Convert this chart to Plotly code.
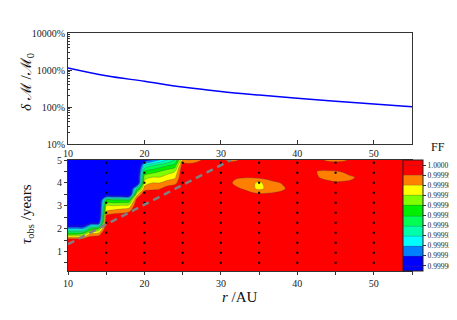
import plotly.graph_objects as go

SERIF = "Liberation Serif, Times New Roman, serif"

# ---------------- top panel: mass uncertainty vs r ----------------
R_TOP = [10, 15, 20, 25, 30, 35, 40, 45, 50, 55]
DM_PCT = [1140, 700, 495, 345, 262, 210, 172, 143, 121, 102]
Y_TOP_TICKS = [10, 100, 1000, 10000]
Y_TOP_LABELS = ["10%", "100%", "1000%", "10000%"]
Y_TOP_MINOR = [20, 30, 40, 50, 60, 70, 80, 90,
               200, 300, 400, 500, 600, 700, 800, 900,
               2000, 3000, 4000, 5000, 6000, 7000, 8000, 9000]

# ---------------- bottom panel: fitting factor map ----------------
# FF deficit (1 - FF) in units of 1e-5 ; B = below 0.99990 (clipped)
B = 12
R_GRID = [10, 11, 12, 13, 14, 15, 16, 17, 18, 19, 20, 21, 22, 23, 24, 25, 26, 27,
          28, 29, 30, 31, 32, 33, 34, 35, 36, 37, 38, 39, 40, 41, 42, 43, 44, 45,
          46, 47, 48, 49, 50, 51, 52, 53, 54, 55]
TAU_GRID = [0.0, 0.25, 0.5, 0.75, 1.0, 1.25, 1.5, 1.75, 2.0, 2.25, 2.5, 2.75,
            3.0, 3.25, 3.5, 3.75, 4.0, 4.25, 4.5, 4.75, 5.0]

# dense block, one list per r column (r = 10 .. 28); values at tau = 5.0 down to 1.25
BLOCK_TAU = [5.0, 4.75, 4.5, 4.25, 4.0, 3.75, 3.5, 3.25, 3.0, 2.75, 2.5, 2.25,
             2.0, 1.75, 1.5, 1.25]
BLOCK_COLS = {
    10: [B, B, B, B, B, B, B, B, B, B, B, B, 8, 4, 0, 0],
    11: [B, B, B, B, B, B, B, B, B, B, B, B, 8, 4, 0, 0],
    12: [B, B, B, B, B, B, B, B, B, B, B, B, 8, 3.5, 0, 0],
    13: [B, B, B, B, B, B, B, B, B, B, B, 10, 5, 1.5, 0, 0],
    14: [B, B, B, B, B, B, B, B, B, B, B, 10, 4, 1.3, 0, 0],
    15: [B, B, B, B, B, B, B, 5, 3, 2, 0.5, 0, 0, 0, 0, 0],
    16: [B, B, B, B, B, B, B, 5, 3, 1.6, 0, 0, 0, 0, 0, 0],
    17: [B, B, B, B, B, B, B, 5, 2.8, 1.4, 0, 0, 0, 0, 0, 0],
    18: [B, B, B, B, B, B, B, 5, 2.6, 1.1, 0, 0, 0, 0, 0, 0],
    19: [B, B, B, B, B, 6, 2.5, 0.5, 0, 0, 0, 0, 0, 0, 0, 0],
    20: [10, 7, 5, 3.5, 2.5, 1.6, 0, 0, 0, 0, 0, 0, 0, 0, 0, 0],
    21: [9, 6, 4.5, 3, 2, 1.3, 0, 0, 0, 0, 0, 0, 0, 0, 0, 0],
    22: [8, 5.5, 4, 3, 2, 1.1, 0, 0, 0, 0, 0, 0, 0, 0, 0, 0],
    23: [7, 5, 3.5, 2.5, 1.6, 0.5, 0, 0, 0, 0, 0, 0, 0, 0, 0, 0],
    24: [6, 4.5, 3, 2.2, 1.3, 0.3, 0, 0, 0, 0, 0, 0, 0, 0, 0, 0],
    25: [2, 0.3, 0, 0, 0, 0, 0, 0, 0, 0, 0, 0, 0, 0, 0, 0],
    26: [2, 0.3, 0, 0, 0, 0, 0, 0, 0, 0, 0, 0, 0, 0, 0, 0],
    27: [1.4, 0, 0, 0, 0, 0, 0, 0, 0, 0, 0, 0, 0, 0, 0, 0],
    28: [0.5, 0, 0, 0, 0, 0, 0, 0, 0, 0, 0, 0, 0, 0, 0, 0],
}
# isolated small dips elsewhere: (r, tau, deficit)
ISLANDS = [
    (30, 5.0, 0.6), (31, 5.0, 1.3), (32, 5.0, 1.2), (33, 5.0, 0.5),
    (43, 5.0, 0.8), (44, 5.0, 1.3), (45, 5.0, 1.4), (46, 5.0, 1.3), (47, 5.0, 0.8),
    (32, 4.25, 0.8), (33, 4.25, 0.9), (34, 4.25, 0.9), (35, 4.25, 0.7), (36, 4.25, 0.5),
    (31, 4.0, 0.6), (32, 4.0, 1.4), (33, 4.0, 1.6), (34, 4.0, 1.8), (35, 4.0, 2.2),
    (36, 4.0, 1.7), (37, 4.0, 1.3), (38, 4.0, 0.9),
    (32, 3.75, 0.7), (33, 3.75, 1.2), (34, 3.75, 1.7), (35, 3.75, 2.3), (36, 3.75, 1.8),
    (37, 3.75, 1.6), (38, 3.75, 1.3), (39, 3.75, 0.6),
    (34, 3.5, 0.6), (35, 3.5, 0.8), (36, 3.5, 0.8), (37, 3.5, 0.7), (38, 3.5, 0.5),
    (42, 4.5, 0.8), (43, 4.5, 1.15), (44, 4.5, 1.15), (45, 4.5, 1.1), (46, 4.5, 0.9),
    (43, 4.25, 1.2), (44, 4.25, 1.5), (45, 4.25, 1.7), (46, 4.25, 1.5), (47, 4.25, 1.3),
    (48, 4.25, 0.7),
    (44, 4.0, 0.6), (45, 4.0, 0.8), (46, 4.0, 0.8), (47, 4.0, 0.7),
]

FF_TICKS = [-10, -9, -8, -7, -6, -5, -4, -3, -2, -1, 0]
FF_LABELS = ["0.99990", "0.99991", "0.99992", "0.99993", "0.99994", "0.99995",
             "0.99996", "0.99997", "0.99998", "0.99999", "1.0000"]
FF_COLORS = ["#0000ff", "#0000ff", "#0080ff", "#00ffff", "#00ffaa", "#00ff55",
             "#00ee00", "#80ff00", "#ffff00", "#ff8000", "#ff0000", "#ff0000"]

# boundary line and grid-sample lines
LINE_R = [10, 31.3]
LINE_TAU = [1.32, 5.0]
R_DOTTED = [15, 20, 25, 30, 35, 40, 45, 50]
DOT_TAU = [4.92, 0.15]

# ---------------- build matrix ----------------
z = [[0.0 for _ in R_GRID] for _ in TAU_GRID]
for r, col in BLOCK_COLS.items():
    j = R_GRID.index(r)
    for tau, d in zip(BLOCK_TAU, col):
        i = TAU_GRID.index(tau)
        z[i][j] = -d
for r, tau, d in ISLANDS:
    z[TAU_GRID.index(tau)][R_GRID.index(r)] = -d

n = len(FF_COLORS) - 1
colorscale = [[k / n, c] for k, c in enumerate(FF_COLORS)]

fig = go.Figure()

fig.add_trace(go.Scatter(
    x=R_TOP, y=DM_PCT, mode="lines", line=dict(color="#0000ff", width=1.5, shape="spline"),
    xaxis="x", yaxis="y", showlegend=False, hoverinfo="skip"))

fig.add_trace(go.Contour(
    x=R_GRID, y=TAU_GRID, z=z, xaxis="x2", yaxis="y2",
    contours=dict(start=-10, end=0, size=1, coloring="fill"),
    line=dict(width=0.5, color="rgba(70,70,70,0.6)"),
    colorscale=colorscale, showscale=True,
    colorbar=dict(
        x=(403 - 68) / 344, xanchor="left", xpad=0,
        y=0, yanchor="bottom", ypad=0,
        len=111, lenmode="pixels", thickness=20, thicknessmode="pixels",
        outlinecolor="#222", outlinewidth=1,
        tickvals=FF_TICKS, ticktext=FF_LABELS, ticks="outside", ticklen=3,
        tickcolor="#333", tickfont=dict(family=SERIF, size=7.5, color="#222")),
    hoverinfo="skip"))

dx, dy = [], []
for r in R_DOTTED:
    dx += [r, r, None]
    dy += [DOT_TAU[0], DOT_TAU[1], None]
fig.add_trace(go.Scatter(
    x=dx, y=dy, mode="lines", line=dict(color="black", width=2, dash="2px,8px"),
    xaxis="x2", yaxis="y2", showlegend=False, hoverinfo="skip"))

fig.add_trace(go.Scatter(
    x=LINE_R, y=LINE_TAU, mode="lines", line=dict(color="#808080", width=2.5, dash="7px,5px"),
    xaxis="x2", yaxis="y2", showlegend=False, hoverinfo="skip"))

axcol = "#333333"
tf = dict(family=SERIF, size=10, color="#222")
H = 238.0
# the page body adds an 8 px offset, so the figure is 8 px smaller and margins shifted
fig.update_layout(
    width=449, height=304,
    margin=dict(l=60, r=45, t=25, b=41, autoexpand=False),
    paper_bgcolor="white", plot_bgcolor="white",
    font=dict(family=SERIF, color="#222"),
    showlegend=False,
    xaxis=dict(domain=[0, 1], anchor="y", range=[10, 55], tickvals=[10, 20, 30, 40, 50],
               ticks="inside", ticklen=4, tickcolor=axcol, showline=True, linecolor=axcol,
               mirror=True, showgrid=False, zeroline=False, tickfont=tf),
    yaxis=dict(domain=[127 / H, 1], anchor="x", type="log", range=[1, 4],
               tickvals=Y_TOP_TICKS, ticktext=Y_TOP_LABELS, ticks="inside", ticklen=4,
               tickcolor=axcol, showline=True, linecolor=axcol, mirror=True,
               showgrid=False, zeroline=False, tickfont=tf,
               minor=dict(tickvals=Y_TOP_MINOR, ticks="inside", ticklen=2,
                          tickcolor=axcol, showgrid=False)),
    xaxis2=dict(domain=[0, 1], anchor="y2", range=[10, 55],
                tickvals=[10, 15, 20, 25, 30, 35, 40, 45, 50, 55],
                ticktext=["10", "", "20", "", "30", "", "40", "", "50", ""],
                ticks="outside", ticklen=3, tickcolor=axcol, showline=True, linecolor=axcol,
                mirror=True, showgrid=False, zeroline=False, tickfont=tf),
    yaxis2=dict(domain=[0, 111 / H], anchor="x2", range=[0.15, 5],
                tickvals=[0.5, 1, 1.5, 2, 2.5, 3, 3.5, 4, 4.5, 5],
                ticktext=["", "1", "", "2", "", "3", "", "4", "", "5"],
                ticks="outside", ticklen=3, tickcolor=axcol, showline=True, linecolor=axcol,
                mirror=True, showgrid=False, zeroline=False, tickfont=tf),
    annotations=[
        dict(text="<i>δ</i> ℳ /ℳ<sub>0</sub>", x=27, y=82, textangle=-90,
             font=dict(family=SERIF, size=15, color="#111")),
        dict(text="<i>τ</i><sub>obs</sub> /years", x=27, y=214, textangle=-90,
             font=dict(family=SERIF, size=15, color="#111")),
        dict(text="<i>r</i> /AU", x=240, y=297,
             font=dict(family=SERIF, size=15, color="#111")),
        dict(text="FF", x=438, y=147,
             font=dict(family=SERIF, size=12, color="#111")),
    ],
)

# convert on-screen pixel positions to plot-area fractions (plot area: x 68..412, y 33..271)
for a in fig.layout.annotations:
    a.x = (a.x - 68) / 344
    a.y = (271 - a.y) / H
    a.xref = "paper"
    a.yref = "paper"
    a.xanchor = "center"
    a.yanchor = "middle"
    a.showarrow = False

fig.write_html("out.html")
